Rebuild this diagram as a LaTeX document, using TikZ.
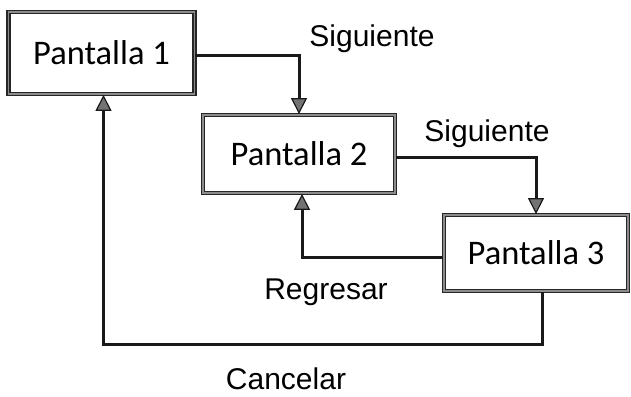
\documentclass[tikz,border=0pt]{standalone}
\usepackage{fontspec}
\setmainfont{Carlito}
\newfontfamily\labfont{Liberation Sans}
\usetikzlibrary{arrows.meta}
\tikzset{
  screen/.style={draw=black!85, line width=1.8pt, double=black!45, double distance=1.3pt,
    fill=white, inner sep=0pt, font=\fontsize{34.5}{40}\selectfont, text=black},
  conn/.style={draw=black!90, line width=3pt,
    -{Triangle[width=16pt,length=16pt,fill=black!55,line width=1.2pt]}},
  lab/.style={font=\labfont\fontsize{30}{36}\selectfont, anchor=base, inner sep=0pt, text=black}
}
\begin{document}
\begin{tikzpicture}[x=1pt,y=-1pt]
\useasboundingbox (0,0) rectangle (631,396);
\fill[white] (0,0) rectangle (631,396);
\node[screen, minimum width=186pt, minimum height=82pt] (p1) at (101.5,53) {Pantalla 1};
\node[screen, minimum width=192pt, minimum height=78pt] (p2) at (299,154) {Pantalla 2};
\node[screen, minimum width=184pt, minimum height=76pt] (p3) at (536,253) {Pantalla 3};
\coordinate (cb) at (320,344);
\draw[conn] ([yshift=-3pt]p1.east) -| (p2.north);
\draw[conn] ([yshift=-3pt]p2.east) -| (p3.north);
\draw[conn] ([yshift=-4pt]p3.west) -| ([xshift=3pt]p2.south);
\draw[conn] ([xshift=6pt]p3.south) |- (cb) -| ([xshift=2pt]p1.south);
\node[lab] (l1) at (372,47) {Siguiente};
\node[lab] (l2) at (487,141) {Siguiente};
\node[lab] (l3) at (326,299) {Regresar};
\node[lab] (l4) at (286,389) {Cancelar};
\end{tikzpicture}
\end{document}
